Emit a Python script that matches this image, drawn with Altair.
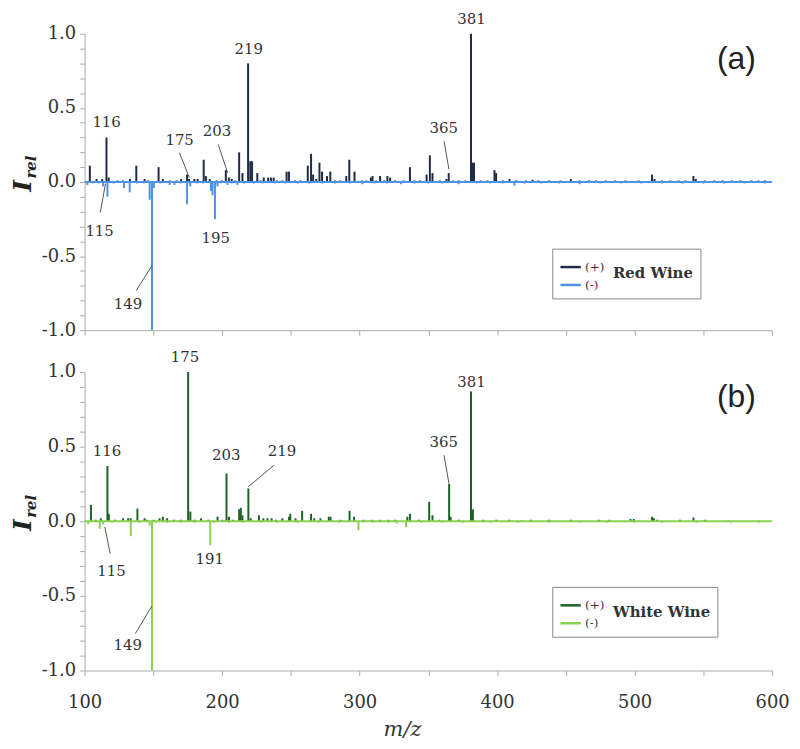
import altair as alt
import pandas as pd

# ---------------- data ----------------
red_pos_mz = [103.8, 108.7, 112.8, 115.9, 117.5, 124, 128, 133, 137.6, 143.6, 146, 153.8, 156.9, 162, 167,
              170.2, 174.5, 176, 179.8, 182.2, 186.6, 188.2, 191, 196, 200, 202.7, 204.9, 207, 209.5, 212.4,
              214.8, 218.9, 220.5, 221.8, 225.6, 228, 230.3, 233.5, 235.5, 237.5, 240, 243.8, 246.9, 248.6,
              253, 257, 262.3, 264.7, 266.2, 268.5, 270.8, 272.7, 276.3, 278.7, 282, 286, 290.3, 292.5, 296.3,
              301.6, 305, 308.2, 309.4, 312, 314.9, 318, 320.2, 322.2, 325.8, 331.8, 336.6, 340, 343.9, 348.7,
              351.1, 353, 358.4, 363.2, 364.8, 368, 372, 377, 381.0, 382.2, 383.2, 388, 393, 398.1, 399.3, 404,
              409, 414, 421, 425.8, 430, 437.9, 446, 453.6, 460, 466.9, 472, 478.9, 486, 493.4, 503, 512.7,
              514.5, 520, 526, 532, 537, 542.8, 544.5, 551, 558, 564, 570.5, 577, 585, 590, 594.7]
red_pos_int = [0.11, 0.02, 0.02, 0.30, 0.03, 0.01, 0.01, 0.02, 0.11, 0.02, 0.01, 0.10, 0.02, 0.01, 0.01,
               0.02, 0.05, 0.02, 0.02, 0.02, 0.15, 0.04, 0.02, 0.01, 0.01, 0.08, 0.03, 0.02, 0.01, 0.20,
               0.06, 0.80, 0.14, 0.14, 0.06, 0.01, 0.03, 0.03, 0.03, 0.03, 0.01, 0.01, 0.07, 0.07,
               0.01, 0.01, 0.11, 0.19, 0.05, 0.02, 0.13, 0.07, 0.04, 0.07, 0.01, 0.01, 0.04, 0.15, 0.07,
               0.01, 0.01, 0.03, 0.04, 0.01, 0.04, 0.01, 0.04, 0.03, 0.01, 0.01, 0.10, 0.01, 0.01, 0.05,
               0.18, 0.06, 0.01, 0.02, 0.06, 0.01, 0.01, 0.01, 1.00, 0.13, 0.13, 0.01, 0.01, 0.08, 0.06, 0.01,
               0.02, 0.01, 0.01, 0.015, 0.01, 0.01, 0.01, 0.02, 0.01, 0.01, 0.01, 0.01, 0.01, 0.01, 0.01, 0.05,
               0.02, 0.01, 0.01, 0.01, 0.01, 0.04, 0.02, 0.01, 0.01, 0.01, 0.01, 0.01, 0.01, 0.01, 0.01]

red_neg_mz = [102, 106, 110, 113.5, 116.6, 121, 128.7, 132.8, 138, 143, 147.3, 149.0, 150.4, 155, 161.8,
              165.4, 170, 174.5, 176.8, 182, 186, 191.9, 193, 194.8, 196.6, 199, 203.9, 207, 211.1, 216,
              223, 230, 238, 246, 255, 263, 273, 282, 293, 302, 311, 320, 330, 340, 350, 360, 372, 385, 395,
              404, 412.6, 420, 432, 445, 460, 475, 490, 505, 520, 535, 550, 565, 580, 595]
red_neg_int = [-0.02, -0.01, -0.01, -0.03, -0.10, -0.01, -0.04, -0.07, -0.01, -0.01, -0.12, -1.00, -0.04,
               -0.01, -0.02, -0.02, -0.01, -0.15, -0.03, -0.01, -0.01, -0.06, -0.09, -0.25, -0.03, -0.01,
               -0.02, -0.01, -0.02, -0.01, -0.01, -0.01, -0.01, -0.01, -0.01, -0.01, -0.01, -0.01, -0.01,
               -0.015, -0.01, -0.01, -0.015, -0.01, -0.01, -0.01, -0.015, -0.01, -0.01, -0.01, -0.025, -0.01,
               -0.01, -0.01, -0.015, -0.01, -0.01, -0.01, -0.01, -0.01, -0.01, -0.01, -0.01, -0.01]

white_pos_mz = [104.6, 108, 111.8, 116.6, 117.6, 122, 128, 131.6, 133.5, 138.4, 143.6, 145.2, 150, 154.5,
                156.9, 160, 165, 170, 175.3, 176.9, 180, 184.7, 190, 196.7, 200, 203.2, 205, 208, 212.4,
                213.6, 214.8, 219.1, 220.8, 226.8, 230, 233, 236, 239, 243.8, 248.6, 249.6, 253.4, 258.2,
                264.7, 267, 271.5, 277.6, 278.8, 286, 292.7, 296, 302.8, 308.9, 315, 320.9, 325.8, 334.7,
                336.6, 343, 350.6, 353, 358, 365.1, 366.2, 372, 381.0, 382.4, 390, 399.4, 409, 418, 424.6,
                437.9, 453.6, 474.1, 481.7, 497, 499.4, 512.7, 514, 516.3, 533, 542.8, 551.2, 568, 591]
white_pos_int = [0.11, 0.01, 0.02, 0.37, 0.05, 0.01, 0.02, 0.02, 0.02, 0.085, 0.02, 0.01, 0.01, 0.02,
                 0.03, 0.02, 0.01, 0.01, 1.00, 0.065, 0.01, 0.02, 0.01, 0.03, 0.01, 0.32, 0.03, 0.01, 0.08,
                 0.09, 0.04, 0.22, 0.02, 0.04, 0.02, 0.02, 0.02, 0.01, 0.02, 0.03, 0.05, 0.02, 0.07,
                 0.05, 0.02, 0.02, 0.03, 0.03, 0.01, 0.07, 0.03, 0.01, 0.01, 0.01, 0.01, 0.01, 0.03,
                 0.05, 0.01, 0.13, 0.04, 0.01, 0.25, 0.03, 0.01, 0.87, 0.08, 0.01, 0.01, 0.01, 0.005, 0.01,
                 0.01, 0.01, 0.01, 0.01, 0.015, 0.015, 0.03, 0.02, 0.01, 0.01, 0.025, 0.01, 0.005, 0.005]

white_neg_mz = [102.6, 111, 113.5, 120, 133.6, 140, 147.3, 149.0, 152, 160, 170, 180, 191.4, 194, 205, 215,
                228, 240, 255, 270, 285, 299.2, 310, 320.9, 327, 333.8, 345, 360, 375, 395, 415, 437.9, 460,
                480, 500, 520, 545, 570, 590]
white_neg_int = [-0.02, -0.05, -0.02, -0.01, -0.10, -0.01, -0.03, -1.00, -0.01, -0.01, -0.01, -0.01, -0.16,
                 -0.01, -0.01, -0.01, -0.01, -0.01, -0.01, -0.01, -0.01, -0.06, -0.01, -0.01, -0.015, -0.04,
                 -0.01, -0.01, -0.01, -0.01, -0.01, -0.01, -0.01, -0.01, -0.01, -0.01, -0.01, -0.01, -0.01]

# annotations (label, m/z, I_rel of label centre)
red_ann_text = ["116", "115", "175", "203", "219", "195", "149", "365", "381"]
red_ann_mz = [116.0, 110.9, 169.1, 196.2, 219.4, 195.3, 131.6, 361.2, 381.3]
red_ann_y = [0.406, -0.33, 0.285, 0.346, 0.896, -0.379, -0.826, 0.362, 1.10]
red_lead_mz1 = [115.2, 169.0, 197.2, 137.6, 361.4]
red_lead_y1 = [-0.011, 0.197, 0.253, -0.732, 0.275]
red_lead_mz2 = [111.4, 176.2, 204.0, 149.0, 365.0]
red_lead_y2 = [-0.206, 0.029, 0.062, -0.564, 0.085]

white_ann_text = ["175", "116", "203", "219", "115", "191", "149", "365", "381"]
white_ann_mz = [173.0, 116.2, 203.0, 243.5, 119.5, 191.0, 131.3, 361.2, 381.3]
white_ann_y = [1.10, 0.471, 0.444, 0.471, -0.333, -0.256, -0.83, 0.528, 0.936]
white_lead_mz1 = [237.7, 118.6, 136.9, 361.4]
white_lead_y1 = [0.375, -0.217, -0.753, 0.442]
white_lead_mz2 = [218.9, 114.7, 149.0, 365.0]
white_lead_y2 = [0.23, -0.038, -0.567, 0.252]

ion_labels = ["(+)", "(-)"]
x_ticks = list(range(100, 601, 50))
y_ticks = [round(-1 + 0.1 * i, 1) for i in range(21)]

SERIF = "DejaVu Serif, serif"
AXIS_GREY = "#aaaaaa"
TEXT = "#333333"

W = 691


def panel(pos_mz, pos_int, neg_mz, neg_int, ann_text, ann_mz, ann_y,
          l_mz1, l_y1, l_mz2, l_y2, pos_color, neg_color, wine, letter, bottom, height):
    spec = pd.DataFrame(
        [{"mz": m, "I": v, "zero": 0.0, "ion": ion_labels[0]} for m, v in zip(pos_mz, pos_int)]
        + [{"mz": m, "I": v, "zero": 0.0, "ion": ion_labels[1]} for m, v in zip(neg_mz, neg_int)]
    )
    ann = pd.DataFrame({"mz": ann_mz, "I": ann_y, "label": ann_text})
    lead = pd.DataFrame({"mz": l_mz1, "I": l_y1, "mz2": l_mz2, "I2": l_y2})
    let = pd.DataFrame({"mz": [574.0], "I": [0.83], "label": [letter]})

    if bottom:
        xaxis = alt.Axis(values=x_ticks, labelExpr="datum.value % 100 == 0 ? datum.label : ''",
                         title="m/z", titleFont=SERIF, titleFontStyle="italic", titleFontWeight="normal",
                         titleFontSize=21, titleColor=TEXT, titlePadding=7, titleX=319,
                         labelFont=SERIF, labelFontSize=18, labelColor=TEXT, labelPadding=18,
                         tickSize=5, tickColor=AXIS_GREY, domainColor=AXIS_GREY, grid=False,
                         labelFlush=False)
    else:
        xaxis = alt.Axis(values=x_ticks, labels=False, title=None, tickSize=5, tickColor=AXIS_GREY,
                         domainColor=AXIS_GREY, grid=False)
    x = alt.X("mz:Q", scale=alt.Scale(domain=[100, 600], nice=False, zero=False), axis=xaxis)
    y = alt.Y("I:Q", scale=alt.Scale(domain=[-1, 1], nice=False),
              axis=alt.Axis(values=y_ticks, title=None, grid=False,
                            labelExpr="abs(datum.value*2 - round(datum.value*2)) < 0.001 ? "
                                      "((datum.value < -0.001 ? '-' : '') + format(abs(datum.value), '.1f')) : ''",
                            labelFont=SERIF, labelFontSize=18, labelColor=TEXT, labelPadding=4,
                            tickSize=5, tickColor=AXIS_GREY, domainColor=AXIS_GREY))
    color = alt.Color("ion:N", scale=alt.Scale(domain=ion_labels, range=[pos_color, neg_color]),
                      legend=alt.Legend(title=wine, orient="none", legendX=470, legendY=216,
                                        titleOrient="right", titleFont=SERIF, titleFontSize=15,
                                        titleFontWeight="bold", titleColor=TEXT, titlePadding=9,
                                        titleBaseline="middle", titleAnchor="middle",
                                        labelFont=SERIF, labelFontSize=12, labelColor=TEXT, labelOffset=3,
                                        symbolType="stroke", symbolSize=420, symbolStrokeWidth=2.5,
                                        rowPadding=0, padding=7, strokeColor="#888888", fillColor="white"))

    base = alt.Chart(spec)
    pos = base.transform_filter(alt.datum.ion == ion_labels[0]).mark_rule(strokeWidth=2).encode(
        x=x, y=y, y2="zero:Q", color=color)
    neg = base.transform_filter(alt.datum.ion == ion_labels[1]).mark_rule(strokeWidth=2).encode(
        x=x, y=y, y2="zero:Q", color=color)
    zero_line = alt.Chart(pd.DataFrame({"I": [0.0]})).mark_rule(color=neg_color, strokeWidth=2).encode(y=y)
    leaders = alt.Chart(lead).mark_rule(color="#555555", strokeWidth=1).encode(
        x=x, y=y, x2="mz2:Q", y2="I2:Q")
    labels = alt.Chart(ann).mark_text(font=SERIF, fontSize=15, color=TEXT, baseline="middle").encode(
        x=x, y=y, text="label:N")
    letter_txt = alt.Chart(let).mark_text(font="Liberation Sans, Arial, sans-serif", fontSize=32,
                                          color="#222222", baseline="middle").encode(x=x, y=y, text="label:N")
    one = pd.DataFrame({"k": [0]})
    mid = height / 2
    ititle = alt.Chart(one).mark_text(text="I", font=SERIF, fontSize=25, fontStyle="italic",
                                      fontWeight="bold", angle=270, color="#222222",
                                      baseline="middle").encode(x=alt.value(-62), y=alt.value(mid + 4))
    rtitle = alt.Chart(one).mark_text(text="rel", font=SERIF, fontSize=15, fontStyle="italic",
                                      fontWeight="bold", angle=270, color="#222222",
                                      baseline="middle").encode(x=alt.value(-54), y=alt.value(mid - 15))
    return alt.layer(pos, zero_line, neg, leaders, labels, letter_txt, ititle, rtitle).properties(
        width=W, height=height)


top = panel(red_pos_mz, red_pos_int, red_neg_mz, red_neg_int, red_ann_text, red_ann_mz, red_ann_y,
            red_lead_mz1, red_lead_y1, red_lead_mz2, red_lead_y2,
            "#1f2b47", "#4f92e3", "Red Wine", "(a)", False, 298)
bottom = panel(white_pos_mz, white_pos_int, white_neg_mz, white_neg_int, white_ann_text, white_ann_mz,
               white_ann_y, white_lead_mz1, white_lead_y1, white_lead_mz2, white_lead_y2,
               "#1d6325", "#8bd24f", "White Wine", "(b)", True, 300)

chart = alt.vconcat(top, bottom, spacing=10).resolve_scale(color="independent").properties(
    padding={"left": 3, "top": 2, "right": 2, "bottom": 2}
).configure_view(stroke=None).configure_axis(labelFont=SERIF, titleFont=SERIF)

chart.save("out.html", embed_options={"renderer": "svg", "actions": False})
